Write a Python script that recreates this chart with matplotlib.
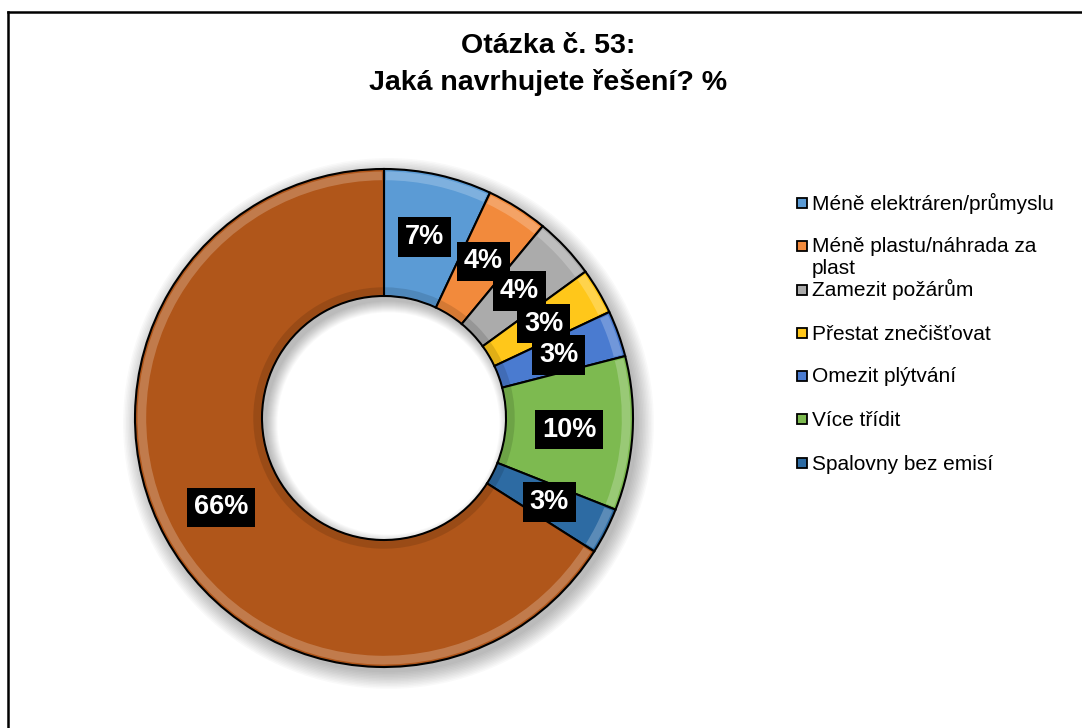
import matplotlib.pyplot as plt
from matplotlib.patches import Wedge, Rectangle
from matplotlib.lines import Line2D
import numpy as np

plt.rcParams['font.family'] = ['Liberation Sans', 'DejaVu Sans']

# --- data ---
categories = ["Méně elektráren/průmyslu", "Méně plastu/náhrada za plast",
              "Zamezit požárům", "Přestat znečišťovat", "Omezit plýtvání",
              "Více třídit", "Spalovny bez emisí", ""]
values = [7, 4, 4, 3, 3, 10, 3, 66]
labels = ["7%", "4%", "4%", "3%", "3%", "10%", "3%", "66%"]
colors = ["#5B9BD5", "#F28A3C", "#ABABAB", "#FFC71A", "#4A7BD0",
          "#7DBA50", "#2D6BA3", "#B0561A"]
legend_labels = [["Méně elektráren/průmyslu"], ["Méně plastu/náhrada za", "plast"],
                 ["Zamezit požárům"], ["Přestat znečišťovat"], ["Omezit plýtvání"],
                 ["Více třídit"], ["Spalovny bez emisí"]]

W, H = 1082, 728
fig = plt.figure(figsize=(W / 100, H / 100), dpi=100)

# --- frame (only top and left visible) ---
fig.add_artist(Line2D([8 / W, 8 / W], [0, 1 - 11.5 / H], color="black", lw=1.8))
fig.add_artist(Line2D([8 / W, 1], [1 - 11.5 / H, 1 - 11.5 / H], color="black", lw=1.8))

# --- title ---
fig.text(548 / W, 1 - 46 / H, "Otázka č. 53:", ha="center", va="center",
         fontsize=20.5, fontweight="bold")
fig.text(548 / W, 1 - 82 / H, "Jaká navrhujete řešení? %", ha="center", va="center",
         fontsize=20.5, fontweight="bold")

# --- donut ---
cx, cy, R = 384, 418, 249
ax = fig.add_axes([(cx - R) / W, (H - cy - R) / H, 2 * R / W, 2 * R / H])
ax.set_xlim(-1, 1)
ax.set_ylim(-1, 1)
ax.set_aspect("equal")
ax.axis("off")

w = 0.51
# soft shadow
for i in range(12):
    r_out = 1.0 + 0.006 * i
    r_in = 1 - w - 0.004 * i
    sh = Wedge((0.018, -0.022), r_out, 0, 360, width=r_out - r_in,
               facecolor="black", edgecolor="none", alpha=0.022, zorder=0)
    sh.set_clip_on(False)
    ax.add_patch(sh)

wedges, _ = ax.pie(values, colors=colors, startangle=90, counterclock=False,
                   radius=1, wedgeprops=dict(width=w, edgecolor="black", linewidth=1.5),
                   frame=False)
for wd in wedges:
    wd.set_zorder(2)

# bevel shading
for wd, c in zip(wedges, colors):
    t1, t2 = wd.theta1, wd.theta2
    ax.add_patch(Wedge((0, 0), 0.99, t1 + 0.5, t2 - 0.5, width=0.035,
                       facecolor="white", edgecolor="none", alpha=0.22, zorder=3))
    ax.add_patch(Wedge((0, 0), 1 - w + 0.035, t1 + 0.5, t2 - 0.5, width=0.03,
                       facecolor="black", edgecolor="none", alpha=0.12, zorder=3))

ax.set_xlim(-1, 1)
ax.set_ylim(-1, 1)

# labels
rm = 1 - w / 2
total = sum(values)
start = 90.0
for v, lab in zip(values, labels):
    ang = np.deg2rad(start - v / total * 360 / 2)
    start -= v / total * 360
    ax.text(rm * np.cos(ang), rm * np.sin(ang), lab, ha="center", va="center",
            color="white", fontsize=19.5, fontweight="bold", zorder=5,
            bbox=dict(boxstyle="square,pad=0.25", facecolor="black", edgecolor="none"))

# --- legend ---
ly = [202, 245, 289, 332, 375, 418, 462]
for lines, c, y in zip(legend_labels, colors, ly):
    fig.add_artist(Rectangle((797 / W, 1 - (y + 5.5) / H), 10 / W, 10 / H,
                             facecolor=c, edgecolor="black", lw=1.3))
    for k, line in enumerate(lines):
        fig.text(812 / W, 1 - (y + 7.5 + 22 * k) / H, line, ha="left",
                 va="baseline", fontsize=15)

fig.savefig("out.png", dpi=100)
